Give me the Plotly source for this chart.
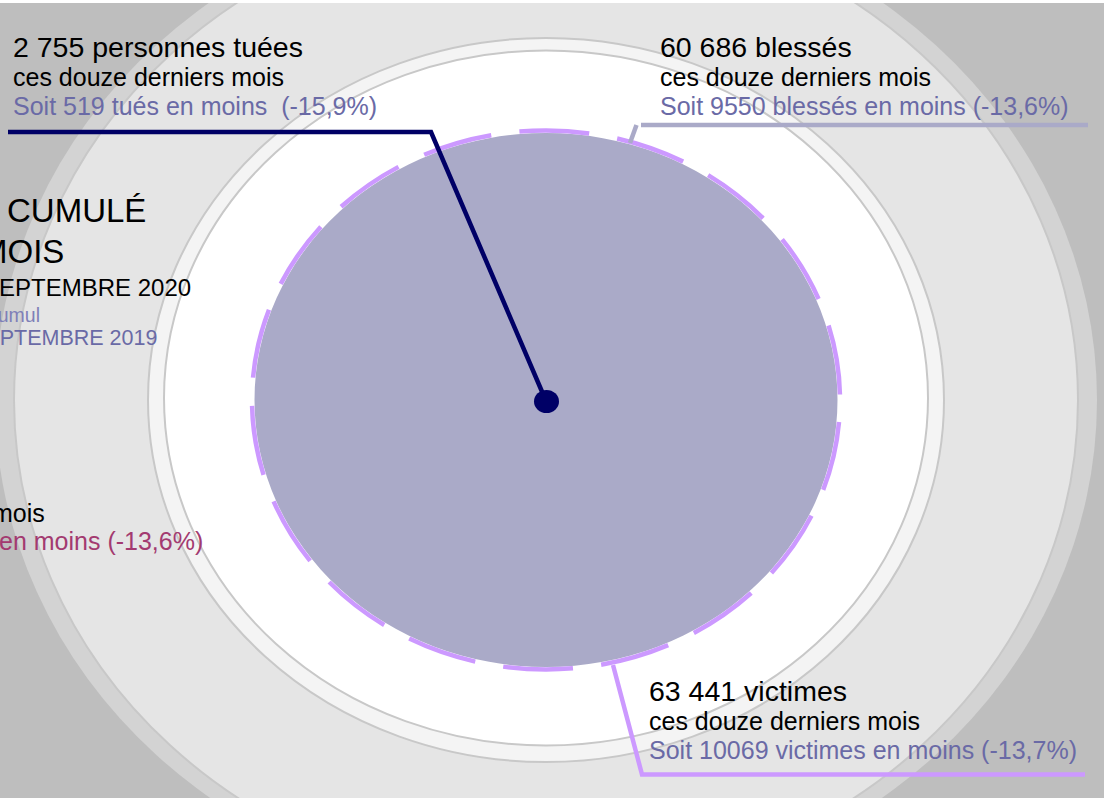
import plotly.graph_objects as go

# ---------------- data ----------------
categories = ["tués", "blessés", "victimes"]
totals = [2755, 60686, 63441]
reductions = [519, 9550, 10069]
pct_change = [-15.9, -13.6, -13.7]
headline_nouns = ["personnes tuées", "blessés", "victimes"]
period_label = "ces douze derniers mois"

# left (partly cropped) title block texts
title_lines = ["CUMULÉ", "MOIS", "SEPTEMBRE 2020"]
compare_lines = ["cumul", "SEPTEMBRE 2019"]
side_lines = ["mois", "en moins (-13,6%)"]

# ---------------- helpers ----------------
W, H, TOP = 1104, 798, 3
CX, CY = 546, 400


def X(px):
    return px - CX


def Y(py):
    return CY - py


def fmt_int(n):
    return f"{n:,}".replace(",", " ")


def fmt_pct(p):
    return f"({p:.1f}%)".replace(".", ",")


FONT = "Arial, Liberation Sans, sans-serif"
BLACK = "#000000"
SOIT = "#6a6aa6"
NAVY = "#000066"
LAV = "#aaaac8"
PURPLE = "#cc99ff"

fig = go.Figure()


def ell(rx, ry, fill, line_color="rgba(0,0,0,0)", lw=0, dash=None, cx=0.0, cy=0.0, layer="below"):
    ln = dict(width=lw, color=line_color)
    if dash:
        ln["dash"] = dash
    fig.add_shape(type="circle", xref="x", yref="y", x0=cx - rx, x1=cx + rx,
                  y0=cy - ry, y1=cy + ry, fillcolor=fill, line=ln, layer=layer)


# decorative rings
ell(551, 502, "#d3d3d3")
ell(532, 488, "#e5e5e5", "#c8c8c8", 2)
ell(398, 362, "#f4f4f4", "#c8c8c8", 2)
ell(382, 347.5, "#ffffff", "#c8c8c8", 2, cy=2)
# central disc (victimes)
ell(291.5, 267, LAV)
ell(294, 269.5, "rgba(0,0,0,0)", PURPLE, 4.5, dash="0px,22px,70px,6.4px")

# leader lines
fig.add_trace(go.Scatter(x=[X(546), X(431), X(8)], y=[Y(401), Y(132), Y(132)],
                         mode="lines", line=dict(color=NAVY, width=4.5),
                         hoverinfo="skip", showlegend=False))
fig.add_trace(go.Scatter(x=[X(630), X(636.5), None, X(641), X(1088)],
                         y=[Y(143), Y(125), None, Y(125), Y(125)],
                         mode="lines", line=dict(color=LAV, width=4.5),
                         hoverinfo="skip", showlegend=False))
fig.add_trace(go.Scatter(x=[X(613), X(642), X(1085)], y=[Y(665), Y(774.5), Y(774.5)],
                         mode="lines", line=dict(color=PURPLE, width=4.5),
                         hoverinfo="skip", showlegend=False))

# centre dot
ell(12.5, 11.5, NAVY, cx=0.5, cy=-1.5, layer="above")


def ann(text, px, pymid, size, color=BLACK, anchor="left"):
    fig.add_annotation(x=X(px), y=Y(pymid), xref="x", yref="y", text=text,
                       showarrow=False, xanchor=anchor, yanchor="middle",
                       font=dict(family=FONT, size=size, color=color))


# value blocks
block_pos = [(11, [46.5, 76.7, 105.5]), (658, [46.5, 76.7, 105.5]), (646.5, [691, 721, 750])]
for i, (px, ys) in enumerate(block_pos):
    head = f"{fmt_int(totals[i])} {headline_nouns[i]}"
    gap = "  " if categories[i] == "tués" else " "
    soit = f"Soit {reductions[i]} {categories[i]} en moins{gap}{fmt_pct(pct_change[i])}"
    ann(head, px, ys[0], 28.5)
    ann(period_label, px, ys[1], 25)
    ann(soit, px, ys[2], 25, SOIT)

# left cropped title block (right-aligned to their visible right edges)
ann(title_lines[0], 148, 210.5, 33, anchor="right")
ann(title_lines[1], 66, 251, 33, anchor="right")
ann(title_lines[2], 193, 287.5, 24, anchor="right")
ann(compare_lines[0], 42, 315.3, 19.5, "#7f7fb8", anchor="right")
ann(compare_lines[1], 159, 338.4, 21.5, SOIT, anchor="right")
ann(side_lines[0], 47, 513, 25, anchor="right")
ann(side_lines[1], 205, 541.3, 25, "#a33a70", anchor="right")

fig.update_layout(
    width=W, height=H,
    margin=dict(l=0, r=0, t=TOP, b=0, pad=0),
    paper_bgcolor="#ffffff", plot_bgcolor="#bebebe",
    xaxis=dict(range=[X(0), X(W)], visible=False, fixedrange=True),
    yaxis=dict(range=[Y(H), Y(TOP)], visible=False, fixedrange=True),
    showlegend=False,
)

fig.write_html("out.html", config={"displayModeBar": False},
               post_script="document.body.style.margin='0px';document.body.style.overflow='hidden';")
